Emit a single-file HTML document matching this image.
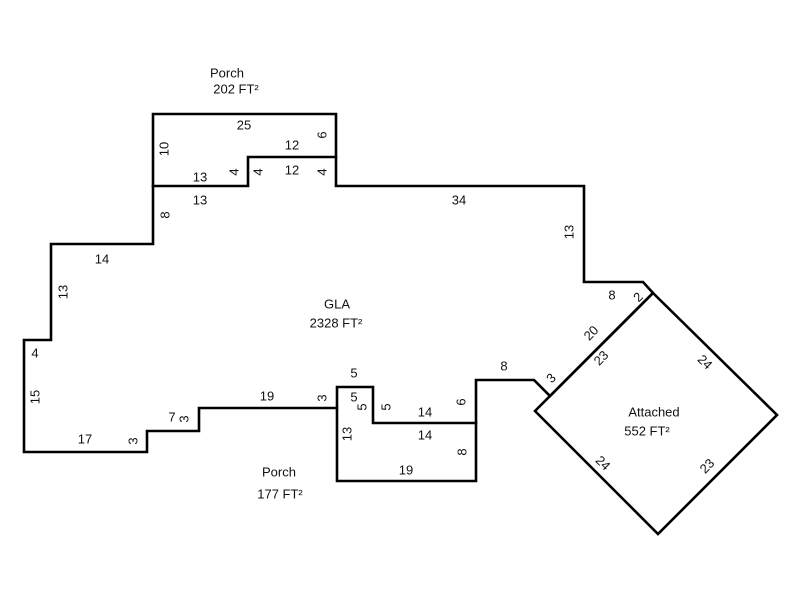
<!DOCTYPE html>
<html><head><meta charset="utf-8"><style>
html,body{margin:0;padding:0;background:#fff;}
svg{display:block;}
text{font-family:"Liberation Sans",Arial,sans-serif;font-size:13px;fill:#111;}
</style></head><body>
<svg width="800" height="600" viewBox="0 0 800 600" xmlns="http://www.w3.org/2000/svg">
<g fill="none" stroke="#000" stroke-width="2.6" stroke-linejoin="miter" stroke-linecap="square">
<polygon points="153,186 248,186 248,157 336,157 336,186 584,186 584,282 643,282 653,293 550,396 534,380 476,380 476,423 373,423 373,387 337,387 337,408 199,408 199,431 147,431 147,452 24,452 24,340 51,340 51,244 153,244"/>
<polyline points="153,186 153,114 336,114 336,157"/>
<polyline points="337,408 337,481 476,481 476,423"/>
<polygon points="653,293 777,415 658,534 535,411"/>
</g>
<g text-anchor="middle" dominant-baseline="central">
<text x="227" y="73">Porch</text>
<text x="236" y="89">202 FT²</text>
<text x="244" y="125">25</text>
<text x="292" y="145">12</text>
<text transform="translate(322,135) rotate(-90)">6</text>
<text transform="translate(164,149) rotate(-90)">10</text>
<text x="200" y="177">13</text>
<text transform="translate(234,172) rotate(-90)">4</text>
<text transform="translate(258,172) rotate(-90)">4</text>
<text x="292" y="170">12</text>
<text transform="translate(322,172) rotate(-90)">4</text>
<text x="200" y="200">13</text>
<text x="459" y="200">34</text>
<text transform="translate(165,215) rotate(-90)">8</text>
<text transform="translate(569,232) rotate(-90)">13</text>
<text x="102" y="259">14</text>
<text transform="translate(63,292) rotate(-90)">13</text>
<text x="337" y="304">GLA</text>
<text x="336" y="323">2328 FT²</text>
<text x="612" y="295">8</text>
<text transform="translate(638,297) rotate(-45)">2</text>
<text transform="translate(591,333) rotate(-45)">20</text>
<text transform="translate(601,358) rotate(-45)">23</text>
<text transform="translate(551,378) rotate(-45)">3</text>
<text transform="translate(705,362) rotate(45)">24</text>
<text x="654" y="412">Attached</text>
<text x="647" y="431">552 FT²</text>
<text transform="translate(603,463) rotate(45)">24</text>
<text transform="translate(707,466) rotate(-45)">23</text>
<text x="35" y="353">4</text>
<text transform="translate(35,397) rotate(-90)">15</text>
<text x="85" y="439">17</text>
<text transform="translate(133,441) rotate(-90)">3</text>
<text x="172" y="417">7</text>
<text transform="translate(184,419) rotate(-90)">3</text>
<text x="267" y="396">19</text>
<text transform="translate(322,398) rotate(-90)">3</text>
<text x="354" y="373">5</text>
<text x="354" y="397">5</text>
<text transform="translate(362,407) rotate(-90)">5</text>
<text transform="translate(386,407) rotate(-90)">5</text>
<text x="425" y="412">14</text>
<text x="425" y="435">14</text>
<text transform="translate(461,402) rotate(-90)">6</text>
<text x="504" y="366">8</text>
<text transform="translate(347,434) rotate(-90)">13</text>
<text transform="translate(462,452) rotate(-90)">8</text>
<text x="406" y="470">19</text>
<text x="279" y="472">Porch</text>
<text x="280" y="494">177 FT²</text>
</g>
</svg>
</body></html>
